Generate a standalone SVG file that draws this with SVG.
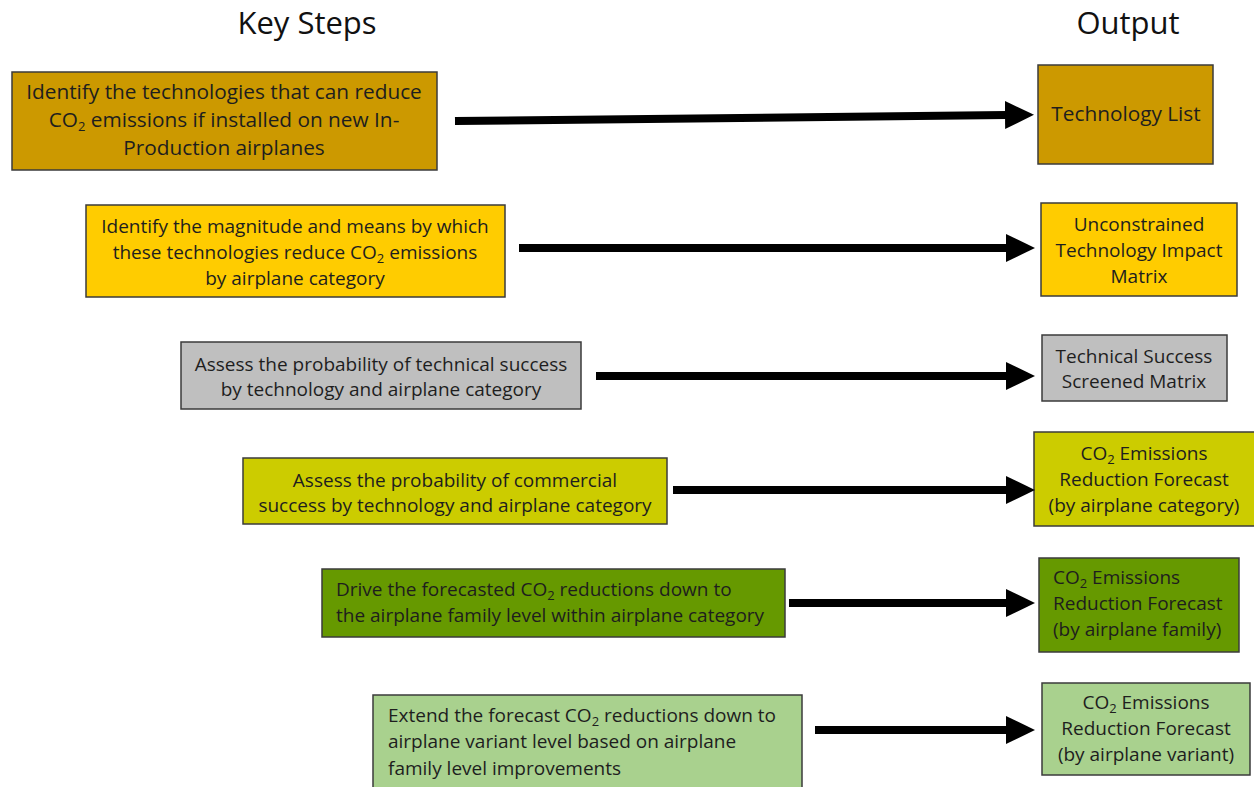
<svg xmlns="http://www.w3.org/2000/svg" width="1254" height="787" viewBox="0 0 1254 787">
<style>
  .box { stroke: #3b3b3b; stroke-width: 1.5; }
  .t { font-family: "Open Sans", "Liberation Sans", Arial, sans-serif; font-size: 19px; fill: #1e1e1e; }
  .big { font-size: 20.8px; }
  .c { text-anchor: middle; }
  .h { font-family: "Open Sans", "Liberation Sans", Arial, sans-serif; font-size: 31px; fill: #111; text-anchor: middle; }
  .conn { stroke: #000; stroke-width: 8; fill: none; marker-end: url(#ah); }
  .sub { font-size: 13px; }
</style>
<defs>
  <marker id="ah" markerUnits="userSpaceOnUse" markerWidth="30" markerHeight="30" viewBox="0 0 30 30" refX="1" refY="15" orient="auto">
    <path d="M0,1 L29,15 L0,29 Z" fill="#000"/>
  </marker>
</defs>
<rect width="1254" height="787" fill="#fff"/>
<text class="h" x="307" y="34">Key Steps</text>
<text class="h" x="1128" y="34">Output</text>

<g id="step1">
  <rect class="box" x="12" y="72" width="425" height="98" fill="#CC9900"/>
  <text class="t big c" x="224" y="99">Identify the  technologies that can reduce</text>
  <text class="t big c" x="224" y="127">CO<tspan class="sub" dy="4">2</tspan><tspan dy="-4"> emissions if installed on new In-</tspan></text>
  <text class="t big c" x="224" y="155">Production  airplanes</text>
</g>
<g id="out1">
  <rect class="box" x="1038" y="65" width="175" height="99" fill="#CC9900"/>
  <text class="t big c" x="1126" y="121">Technology List</text>
</g>

<g id="step2">
  <rect class="box" x="86" y="205" width="419" height="92" fill="#FFCC00"/>
  <text class="t c" x="295" y="233">Identify the magnitude and means by which</text>
  <text class="t c" x="295" y="259">these technologies reduce CO<tspan class="sub" dy="4">2</tspan><tspan dy="-4"> emissions</tspan></text>
  <text class="t c" x="295" y="285">by airplane category</text>
</g>
<g id="out2">
  <rect class="box" x="1041" y="203" width="196" height="93" fill="#FFCC00"/>
  <text class="t c" x="1139" y="231">Unconstrained</text>
  <text class="t c" x="1139" y="257">Technology Impact</text>
  <text class="t c" x="1139" y="283">Matrix</text>
</g>

<g id="step3">
  <rect class="box" x="181" y="342" width="400" height="67" fill="#BFBFBF"/>
  <text class="t c" x="381" y="371">Assess the probability of technical success</text>
  <text class="t c" x="381" y="396">by technology and airplane category</text>
</g>
<g id="out3">
  <rect class="box" x="1042" y="335" width="185" height="66" fill="#BFBFBF"/>
  <text class="t c" x="1134" y="363">Technical Success</text>
  <text class="t c" x="1134" y="388">Screened Matrix</text>
</g>

<g id="step4">
  <rect class="box" x="243" y="458" width="424" height="66" fill="#CCCC00"/>
  <text class="t c" x="455" y="487">Assess the probability of commercial</text>
  <text class="t c" x="455" y="512">success by technology and airplane category</text>
</g>
<g id="out4">
  <rect class="box" x="1034" y="432" width="222" height="94" fill="#CCCC00"/>
  <text class="t c" x="1144" y="460">CO<tspan class="sub" dy="4">2</tspan><tspan dy="-4"> Emissions</tspan></text>
  <text class="t c" x="1144" y="486">Reduction Forecast</text>
  <text class="t c" x="1144" y="512">(by airplane category)</text>
</g>

<g id="step5">
  <rect class="box" x="322" y="569" width="463" height="68" fill="#669900"/>
  <text class="t" x="336" y="596">Drive the forecasted CO<tspan class="sub" dy="4">2</tspan><tspan dy="-4"> reductions down to</tspan></text>
  <text class="t" x="336" y="622">the airplane family level within airplane category</text>
</g>
<g id="out5">
  <rect class="box" x="1039" y="558" width="200" height="94" fill="#669900"/>
  <text class="t" x="1053" y="584">CO<tspan class="sub" dy="4">2</tspan><tspan dy="-4"> Emissions</tspan></text>
  <text class="t" x="1053" y="610">Reduction Forecast</text>
  <text class="t" x="1053" y="636">(by airplane family)</text>
</g>

<g id="step6">
  <rect class="box" x="373" y="695" width="429" height="96" fill="#A9D18E"/>
  <text class="t" x="388" y="722">Extend the forecast CO<tspan class="sub" dy="4">2</tspan><tspan dy="-4"> reductions down to</tspan></text>
  <text class="t" x="388" y="748">airplane variant level based on airplane</text>
  <text class="t" x="388" y="775">family level improvements</text>
</g>
<g id="out6">
  <rect class="box" x="1042" y="683" width="208" height="92" fill="#A9D18E"/>
  <text class="t c" x="1146" y="709">CO<tspan class="sub" dy="4">2</tspan><tspan dy="-4"> Emissions</tspan></text>
  <text class="t c" x="1146" y="735">Reduction Forecast</text>
  <text class="t c" x="1146" y="761">(by airplane variant)</text>
</g>

<g id="connectors">
  <line class="conn" x1="455" y1="121" x2="1006" y2="115"/>
  <line class="conn" x1="519" y1="248" x2="1007" y2="248"/>
  <line class="conn" x1="596" y1="376" x2="1007" y2="376"/>
  <line class="conn" x1="673" y1="490" x2="1007" y2="490"/>
  <line class="conn" x1="789" y1="603" x2="1007" y2="603"/>
  <line class="conn" x1="815" y1="730" x2="1007" y2="730"/>
</g>
</svg>
